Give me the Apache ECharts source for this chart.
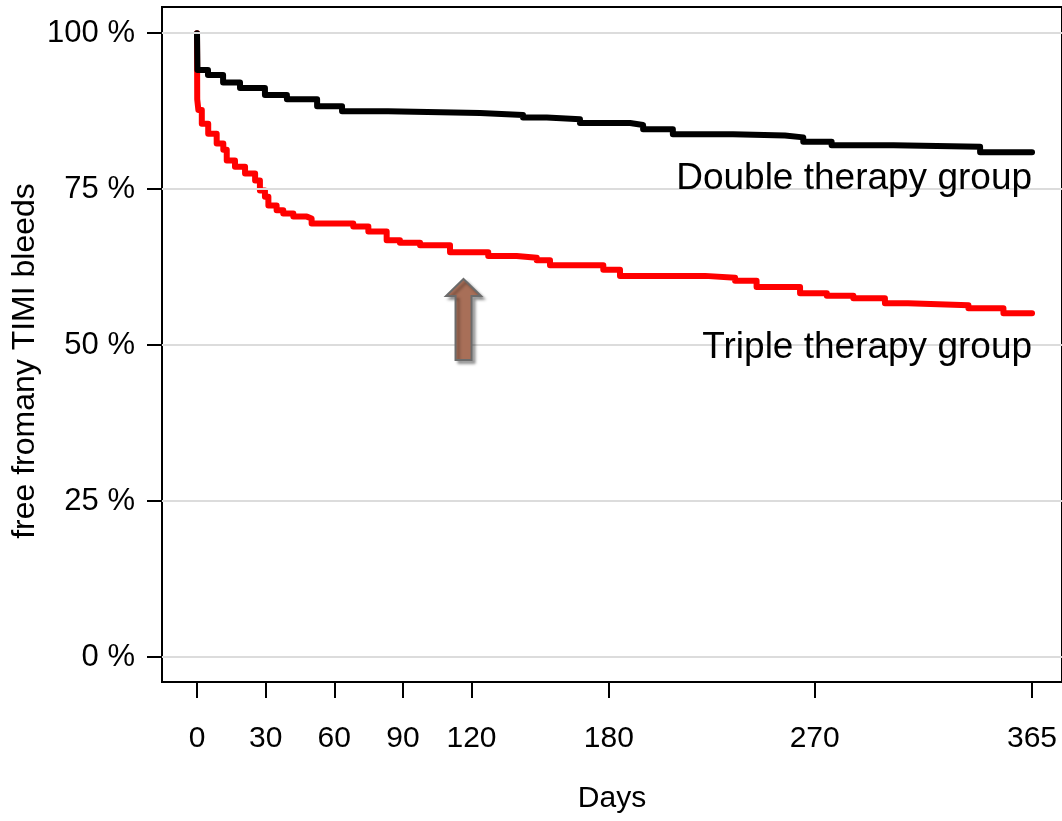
<!DOCTYPE html>
<html>
<head>
<meta charset="utf-8">
<script src="https://cdn.jsdelivr.net/npm/echarts@6/dist/echarts.min.js"></script>
<style>
  html, body { margin: 0; padding: 0; background: #fff; }
  #main { width: 1062px; height: 821px; }
</style>
</head>
<body>
<div id="main"></div>
<script>
// Kaplan-Meier style step curves
const doubleDays = [0, 0.2, 4.8, 11.4, 18.8, 29.7, 39.3, 52.5, 63.4, 83.5, 123.7, 142.5, 152.9, 167.4, 189.3, 195, 208, 234.3, 257, 265, 277.4, 304.4, 342.3, 365]
const doubleSurv = [100, 94.1, 93.3, 92.1, 91.2, 90.1, 89.4, 88.3, 87.5, 87.2, 86.9, 86.5, 86.2, 85.6, 85.3, 84.6, 83.8, 83.6, 83.3, 82.6, 82.05, 81.8, 80.9, 80.9]

const tripleDays = [0, 0.1, 0.6, 2.1, 4.9, 8.6, 11.5, 13.0, 16.6, 21.0, 25.4, 27.5, 29.7, 31.2, 34.8, 37.7, 42.1, 48.0, 50.1, 68.3, 74.9, 82.9, 88.7, 97.5, 110.6, 127.3, 139.7, 148.5, 154.3, 177.6, 184.9, 222.1, 235.2, 244.6, 263.6, 275.3, 286.9, 300.7, 310.8, 337.2, 352.5, 365]
const tripleSurv = [100, 89.4, 87.7, 85.5, 83.9, 82.3, 81.3, 79.6, 78.6, 77.5, 76.4, 74.8, 73.8, 72.4, 71.6, 71.1, 70.6, 70.3, 69.5, 69.0, 68.2, 66.8, 66.4, 66.0, 64.9, 64.3, 64.0, 63.6, 62.8, 62.1, 61.1, 60.8, 60.3, 59.3, 58.3, 57.9, 57.5, 56.7, 56.4, 55.9, 55.1, 55.1]

const xTicks = [0, 30, 60, 90, 120, 180, 270, 365]
const yTicks = [0, 25, 50, 75, 100]

const seriesNames = ['Triple therapy group', 'Double therapy group']

const FONT = 'Liberation Sans, Arial, sans-serif'

const pairs = (xs, ys) => xs.map((x, i) => [x, ys[i]])

const chart = echarts.init(document.getElementById('main'))

const option = {
  animation: false,
  backgroundColor: '#fff',
  grid: {
    left: 162,
    top: 7,
    width: 900,
    height: 675,
    show: true,
    borderColor: '#000',
    borderWidth: 2,
    backgroundColor: 'transparent'
  },
  xAxis: {
    type: 'value',
    min: -15.3,
    max: 378.1,
    name: 'Days',
    nameLocation: 'middle',
    nameGap: 102,
    nameTextStyle: { fontSize: 30, color: '#000', fontFamily: FONT },
    axisLine: { show: true, onZero: false, lineStyle: { color: '#000', width: 2 } },
    // 刻度只在指定位置
    axisTick: {
      show: true,
      customValues: xTicks,
      length: 16,
      lineStyle: { color: '#000', width: 2 }
    },
    axisLabel: {
      customValues: xTicks,
      fontSize: 30,
      color: '#000',
      fontFamily: FONT,
      margin: 42
    },
    splitLine: { show: false }
  },
  yAxis: {
    type: 'value',
    min: -4.0,
    max: 104.2,
    axisLine: { show: true, onZero: false, lineStyle: { color: '#000', width: 2 } },
    axisTick: {
      show: true,
      customValues: yTicks,
      length: 15,
      lineStyle: { color: '#000', width: 2 }
    },
    axisLabel: {
      customValues: yTicks,
      fontSize: 31,
      color: '#000',
      fontFamily: FONT,
      margin: 27,
      formatter: v => v + ' %'
    },
    splitLine: { show: false }
  },
  series: [
    {
      // 网格线
      type: 'line',
      data: [],
      silent: true,
      z: 1,
      markLine: {
        silent: true,
        symbol: 'none',
        animation: false,
        label: { show: false },
        lineStyle: { color: '#dcdcdc', width: 2, type: 'solid' },
        data: yTicks.map(v => ({ yAxis: v }))
      }
    },
    {
      name: seriesNames[0],
      type: 'line',
      step: 'end',
      showSymbol: false,
      z: 3,
      data: pairs(tripleDays, tripleSurv),
      lineStyle: { color: '#ff0000', width: 6, cap: 'round', join: 'round' }
    },
    {
      name: seriesNames[1],
      type: 'line',
      step: 'end',
      showSymbol: false,
      z: 4,
      data: pairs(doubleDays, doubleSurv),
      lineStyle: { color: '#000', width: 6, cap: 'round', join: 'round' }
    }
  ]
}

chart.setOption(option)

// 标注：组名、纵轴标题、箭头
const px = (d, p) => chart.convertToPixel({ gridIndex: 0 }, [d, p])
const dLab = px(365, 76.6)
const tLab = px(365, 49.6)
const tip = px(116.5, 60.6)

const arrowPts = [
  [0, 0], [17.5, 17], [8, 17], [8, 81], [-8, 81], [-8, 17], [-17.5, 17]
].map(p => [tip[0] + p[0], tip[1] + p[1]])

chart.setOption({
  graphic: [
    {
      type: 'text',
      x: dLab[0],
      y: dLab[1],
      z: 10,
      style: {
        text: seriesNames[1],
        font: '37px ' + FONT,
        fill: '#000',
        align: 'right',
        verticalAlign: 'middle'
      }
    },
    {
      type: 'text',
      x: tLab[0],
      y: tLab[1],
      z: 10,
      style: {
        text: seriesNames[0],
        font: '37px ' + FONT,
        fill: '#000',
        align: 'right',
        verticalAlign: 'middle'
      }
    },
    {
      type: 'text',
      x: 25,
      y: 361,
      rotation: Math.PI / 2,
      style: {
        text: 'free fromany TIMI bleeds',
        font: '32px ' + FONT,
        fill: '#000',
        align: 'center',
        verticalAlign: 'middle'
      }
    },
    {
      type: 'polygon',
      z: 10,
      shape: { points: arrowPts },
      style: {
        fill: '#a86f58',
        stroke: '#6b6b6b',
        lineWidth: 2,
        shadowBlur: 3,
        shadowOffsetX: 3,
        shadowOffsetY: 3,
        shadowColor: 'rgba(0,0,0,0.35)'
      }
    }
  ]
})
</script>
</body>
</html>
